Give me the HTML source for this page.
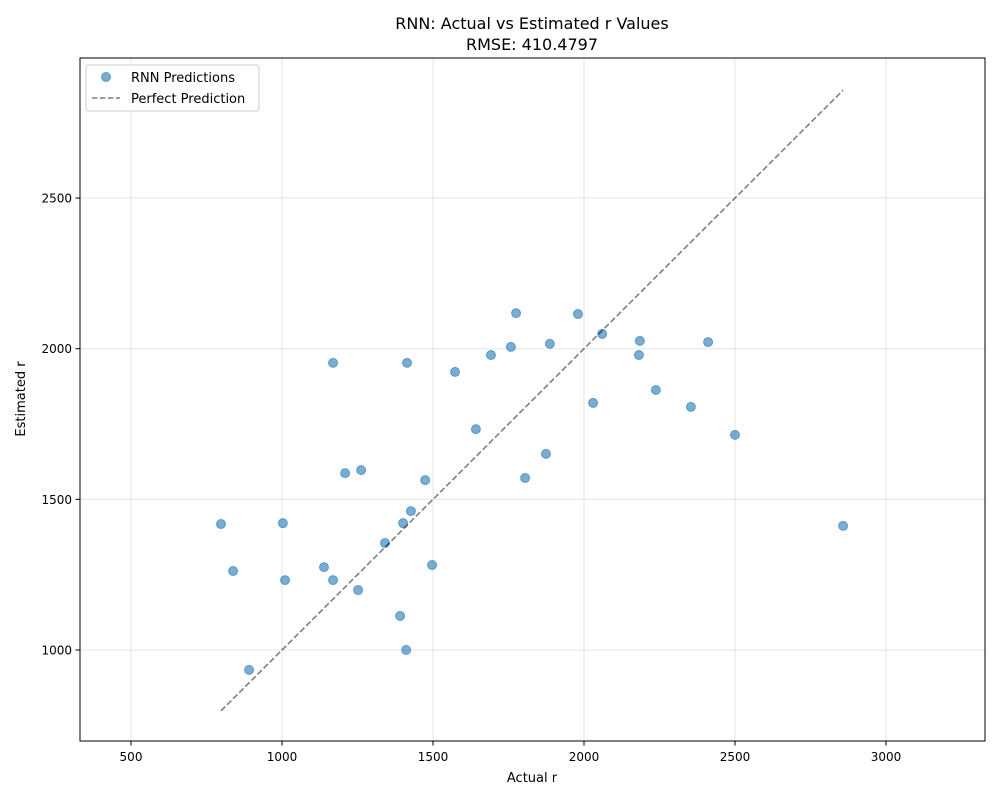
<!DOCTYPE html>
<html><head><meta charset="utf-8"><style>
body{margin:0;background:#fff;font-family:"Liberation Sans","DejaVu Sans",sans-serif;}
svg text{font-family:"DejaVu Sans","Liberation Sans",sans-serif;}
</style></head><body>
<svg id="chart" width="1000" height="800" xmlns="http://www.w3.org/2000/svg">
<rect width="1000" height="800" fill="#fff"/>
<g id="grid"></g><g id="ticks"></g><g id="marks"></g>
<rect x="80" y="58" width="905" height="683" fill="none" stroke="#000" stroke-width="1"/>
<text x="532" y="29" font-size="16" text-anchor="middle">RNN: Actual vs Estimated r Values</text>
<text x="532" y="50" font-size="16" text-anchor="middle">RMSE: 410.4797</text>
<text x="532" y="782" font-size="13" text-anchor="middle">Actual r</text>
<text transform="translate(25,399) rotate(-90)" font-size="13" text-anchor="middle">Estimated r</text>
<g>
<rect x="86" y="65" width="173" height="46" rx="3" fill="#fff" fill-opacity="0.8" stroke="#ccc"/>
<circle cx="106" cy="77" r="4.5" fill="#1f77b4" fill-opacity="0.6" stroke="#1f77b4" stroke-opacity="0.6"/>
<text x="131" y="82" font-size="13">RNN Predictions</text>
<line x1="92" y1="98" x2="120" y2="98" stroke="#000" stroke-opacity="0.5" stroke-width="1.5" stroke-dasharray="5.5,2.5"/>
<text x="131" y="103" font-size="13">Perfect Prediction</text>
</g>
</svg>
<script>
const actual=[798,838,891,1003,1010,1139,1169,1169,1209,1262,1252,1341,1391,1401,1411,1414,1427,1474,1497,1573,1642,1692,1758,1775,1805,1874,1887,1980,2030,2060,2182,2185,2238,2354,2411,2500,2858];
const estimated=[1418,1262,934,1421,1232,1275,1953,1232,1587,1597,1199,1355,1113,1421,1000,1953,1461,1564,1282,1923,1733,1979,2006,2118,1571,1651,2016,2115,1820,2049,1979,2026,1863,1807,2022,1714,1412];
const xTicks=[500,1000,1500,2000,2500,3000];
const yTicks=[1000,1500,2000,2500];
const X=v=>131+(v-500)*0.302;
const Y=v=>650-(v-1000)*0.3013;
const NS="http://www.w3.org/2000/svg";
function mk(t,a,p){const e=document.createElementNS(NS,t);for(const k in a)e.setAttribute(k,a[k]);p.appendChild(e);return e;}
const grid=document.getElementById('grid'),ticks=document.getElementById('ticks'),marks=document.getElementById('marks');
xTicks.forEach(v=>{const x=X(v);
const g=mk('line',{x1:x,x2:x,y1:58,y2:741,stroke:'#000','stroke-opacity':0.1},grid);


const t=mk('line',{x1:x,x2:x,y1:741,y2:745.5,stroke:'#000'},ticks);


const l=mk('text',{x:x,y:761,'font-size':12,'text-anchor':'middle'},ticks);l.textContent=v;

});
yTicks.forEach(v=>{const y=Y(v);
const g=mk('line',{x1:80,x2:985,y1:y,y2:y,stroke:'#000','stroke-opacity':0.1},grid);


const t=mk('line',{x1:75.5,x2:80,y1:y,y2:y,stroke:'#000'},ticks);


const l=mk('text',{x:72,y:y+4.5,'font-size':12,'text-anchor':'end'},ticks);l.textContent=v;

});
actual.forEach((a,i)=>{const c=mk('circle',{cx:X(a),cy:Y(estimated[i]),r:4.5,fill:'#1f77b4','fill-opacity':0.6,stroke:'#1f77b4','stroke-opacity':0.6},marks);

});
const mn=Math.min(...actual),mx=Math.max(...actual);
const ln=mk('line',{x1:X(mn),y1:Y(mn),x2:X(mx),y2:Y(mx),stroke:'#000','stroke-opacity':0.5,'stroke-width':1.6,'stroke-dasharray':'6,2.6'},marks);


</script>
</body></html>
